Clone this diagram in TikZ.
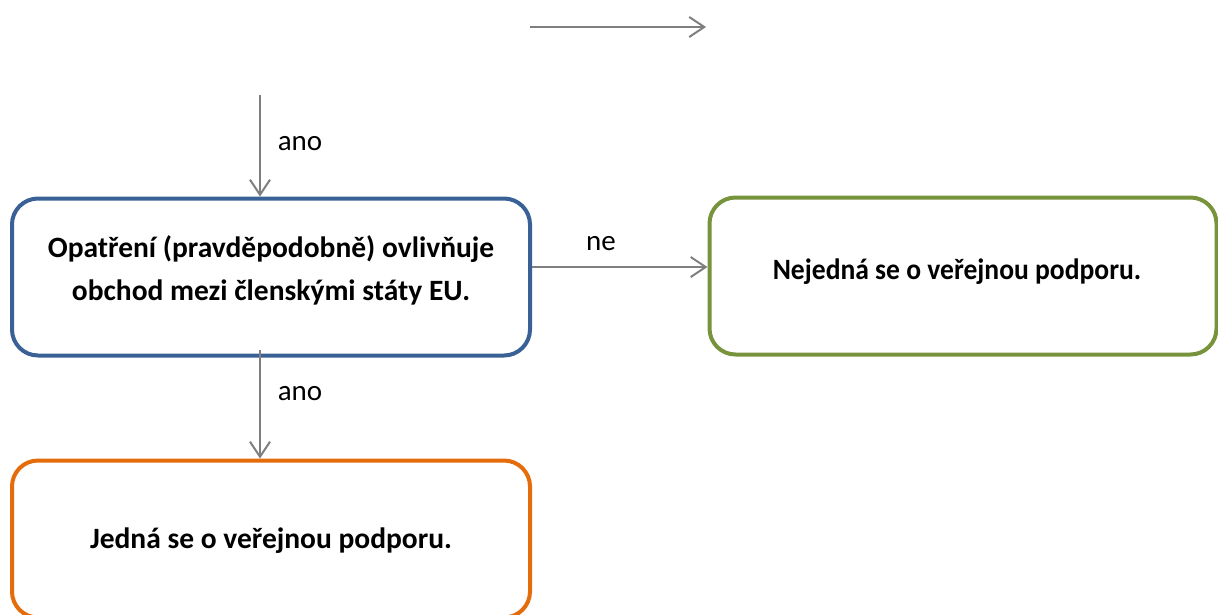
\documentclass[tikz,border=0pt]{standalone}
\usepackage{fontspec}
\setmainfont{Carlito}
\usetikzlibrary{arrows.meta}
\definecolor{bluebox}{HTML}{3A6195}
\definecolor{greenbox}{HTML}{77933C}
\definecolor{orangebox}{HTML}{E46C0A}
\definecolor{arrowgray}{HTML}{7F7F7F}
\tikzset{
  box/.style={draw, line width=4pt, rounded corners=26pt, minimum width=518pt, minimum height=157pt, fill=white},
  boxtext/.style={font=\fontsize{29.5}{43}\selectfont\bfseries, align=center, inner sep=0pt},
  lbl/.style={font=\fontsize{29}{34}\selectfont, inner sep=0pt},
  conn/.style={draw=arrowgray, line width=2pt, -{Straight Barb[length=15pt,width=20pt,line width=2pt]}}
}
\begin{document}
\begin{tikzpicture}[x=1pt,y=-1pt]
\useasboundingbox (0,0) rectangle (1218,614);
\clip (0,0) rectangle (1218,614);
\node[box, draw=bluebox] (blue) at (271,277) {};
\node[boxtext] (bluet) at (271,270) {Opatření (pravděpodobně) ovlivňuje\\obchod mezi členskými státy EU.};
\node[box, draw=greenbox, minimum width=507pt] (green) at (963,276) {};
\node[boxtext, xscale=0.935, transform shape] (greent) at (957,272) {Nejedná se o veřejnou podporu.};
\node[box, draw=orangebox] (orange) at (271,539) {};
\node[boxtext] (oranget) at (271,541) {Jedná se o veřejnou podporu.};
% free arrow at top
\coordinate (a1) at (530,27);
\coordinate (a2) at (706,27);
\draw[conn] (a1) -- (a2);
% incoming arrow
\coordinate (t1) at (260,95);
\draw[conn] (t1) -- (t1 |- blue.north);
\node[lbl] (ano1) at (300,144) {ano};
% ne
\draw[conn] (blue.east |- 0,267) -- (green.west |- 0,267);
\node[lbl] (ne) at (601,244) {ne};
% down
\coordinate (d1) at (260,350);
\draw[conn] (d1) -- (d1 |- orange.north);
\node[lbl] (ano2) at (300,394) {ano};
\end{tikzpicture}
\end{document}
